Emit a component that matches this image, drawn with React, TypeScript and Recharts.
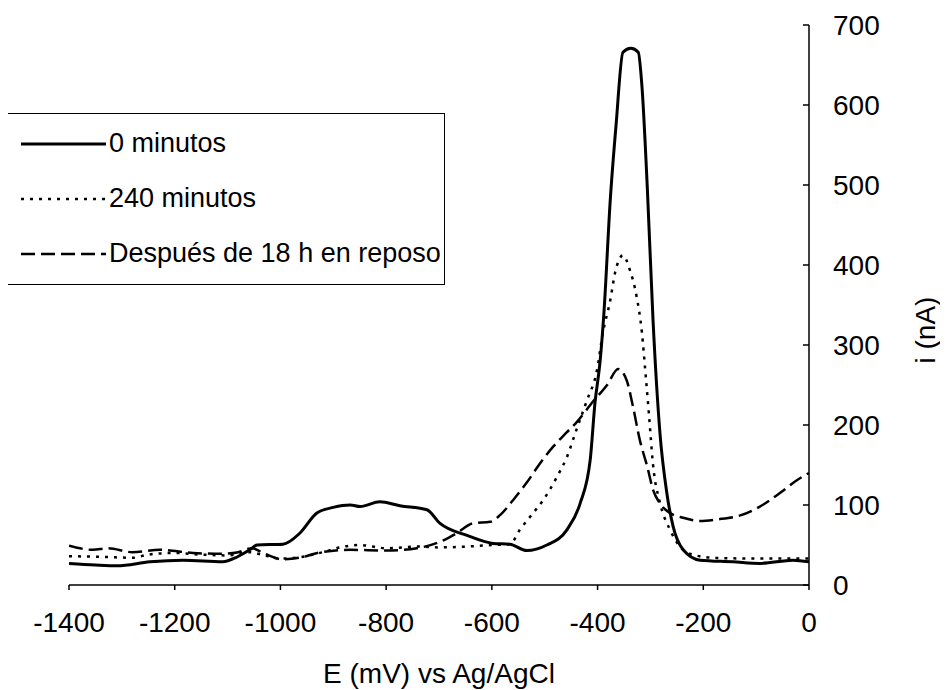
import { LineChart, Line, XAxis, YAxis, Legend } from 'recharts';

// 0 minutos
const e0 = [-1400, -1350, -1309, -1247, -1184, -1109, -1082, -1058, -1044, -995, -963, -931, -900, -868, -849, -812, -774, -723, -698, -647, -598, -566, -534, -496, -458, -433, -414, -405, -395, -388, -376, -365, -352, -337, -323, -316, -306, -295, -282, -269, -257, -238, -206, -144, -93, -30, 0];
const i0 = [27, 25, 24, 29, 31, 29, 35, 44, 50, 51, 65, 90, 97, 100, 98, 104, 99, 94, 77, 62, 52, 51, 43, 50, 69, 102, 156, 227, 281, 340, 481, 575, 666, 671, 666, 623, 498, 330, 190, 115, 73, 44, 31, 29, 27, 31, 29];

// 240 minutos
const e240 = [-1400, -1330, -1280, -1250, -1200, -1150, -1100, -1060, -1030, -1000, -960, -920, -880, -850, -800, -740, -700, -650, -600, -566, -547, -522, -503, -477, -458, -439, -420, -401, -390, -376, -367, -352, -339, -326, -316, -310, -303, -295, -282, -263, -244, -220, -180, -100, 0];
const i240 = [36, 35, 34, 38, 40, 38, 37, 41, 37, 33, 35, 41, 48, 50, 46, 48, 47, 48, 50, 51, 69, 90, 106, 135, 160, 196, 231, 269, 315, 356, 390, 412, 394, 360, 315, 270, 215, 150, 103, 69, 48, 38, 34, 33, 33];

// Después de 18 h en reposo
const eRest = [-1400, -1355, -1326, -1280, -1228, -1165, -1110, -1080, -1054, -1033, -995, -957, -930, -868, -800, -742, -698, -666, -636, -603, -585, -560, -534, -509, -484, -458, -439, -409, -382, -361, -345, -333, -320, -306, -295, -282, -263, -238, -206, -174, -130, -93, -55, -23, 0];
const iRest = [49, 44, 46, 41, 44, 40, 39, 41, 46, 40, 32, 35, 40, 44, 43, 46, 54, 65, 77, 79, 87, 106, 128, 152, 173, 191, 204, 229, 250, 270, 256, 223, 181, 148, 119, 102, 90, 84, 80, 82, 87, 98, 115, 131, 140];

const xTicks = [-1400, -1200, -1000, -800, -600, -400, -200, 0];
const yTicks = [0, 100, 200, 300, 400, 500, 600, 700];

const FONT = '"Liberation Sans", Arial, sans-serif';

const toPoints = (e: number[], i: number[]) => e.map((x, k) => ({ x, y: i[k] }));

const series = [
  { name: '0 minutos', data: toPoints(e0, i0), dash: undefined, width: 3 },
  { name: '240 minutos', data: toPoints(e240, i240), dash: '3 6', width: 2.5 },
  { name: 'Después de 18 h en reposo', data: toPoints(eRest, iRest), dash: '14 6', width: 2.5 },
];

function RightTick(props: any) {
  const { x, y, payload } = props;
  return (
    <g>
      <line x1={x - 6} x2={x} y1={y} y2={y} stroke="#000" strokeWidth={1.5} />
      <text x={x + 24} y={y} dy={10} fontSize={28} fontFamily={FONT} fill="#000" textAnchor="start">
        {payload.value}
      </text>
    </g>
  );
}

function LegendBox() {
  return (
    <div
      style={{
        width: 438,
        height: 172,
        border: '1.5px solid #000',
        boxSizing: 'border-box',
        background: '#fff',
        fontFamily: FONT,
        fontSize: 27,
        color: '#000',
        paddingTop: 2,
        whiteSpace: 'nowrap',
      }}
    >
      {series.map((s) => (
        <div key={s.name} style={{ display: 'flex', alignItems: 'center', height: 55 }}>
          <svg width={85} height={10} style={{ marginLeft: 13, marginRight: 3, flexShrink: 0 }}>
            <line x1={0} x2={85} y1={5} y2={5} stroke="#000" strokeWidth={s.width} strokeDasharray={s.dash} />
          </svg>
          <span>{s.name}</span>
        </div>
      ))}
    </div>
  );
}

export default function App() {
  return (
    <div style={{ width: 940, height: 682, background: '#fff' }}>
      <LineChart width={940} height={682} margin={{ top: 17, right: 39, bottom: 7, left: 61 }}>
        <XAxis
          dataKey="x"
          type="number"
          domain={[-1400, 0]}
          ticks={xTicks}
          allowDataOverflow
          height={98}
          tickSize={5}
          tickMargin={22}
          axisLine={{ stroke: '#000', strokeWidth: 1.5 }}
          tickLine={{ stroke: '#000', strokeWidth: 1.5 }}
          tick={{ fill: '#000', fontSize: 28, fontFamily: FONT }}
          label={{ value: 'E (mV) vs Ag/AgCl', position: 'insideBottom', offset: 0, fill: '#000', fontSize: 28, fontFamily: FONT }}
        />
        <YAxis
          dataKey="y"
          type="number"
          orientation="right"
          domain={[0, 700]}
          ticks={yTicks}
          width={100}
          tickSize={0}
          tickMargin={0}
          tickLine={false}
          axisLine={{ stroke: '#000', strokeWidth: 1.5 }}
          tick={<RightTick />}
          label={{ value: 'i (nA)', angle: -90, position: 'center', dx: 66, dy: 25, fill: '#000', fontSize: 28, fontFamily: FONT }}
        />
        <Legend
          layout="vertical"
          align="center"
          verticalAlign="middle"
          wrapperStyle={{ left: -1, top: 105, width: 438 }}
          content={<LegendBox />}
        />
        {series.map((s) => (
          <Line
            key={s.name}
            name={s.name}
            data={s.data}
            dataKey="y"
            type="monotone"
            stroke="#000"
            strokeWidth={s.width}
            strokeDasharray={s.dash}
            dot={false}
            activeDot={false}
            isAnimationActive={false}
          />
        ))}
      </LineChart>
    </div>
  );
}
